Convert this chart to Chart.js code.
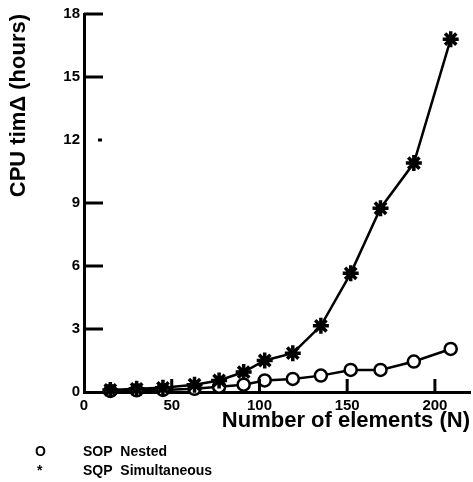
<!DOCTYPE html>
<html>
<head>
<meta charset="utf-8">
<script src="https://cdn.jsdelivr.net/npm/chart.js@4"></script>
<style>
  html,body{margin:0;padding:0;background:#fff;}
  #wrap{position:relative;width:473px;height:482px;}
  canvas{position:absolute;left:0;top:0;}
  .leg{position:absolute;font-family:"Liberation Sans",Arial,sans-serif;font-weight:bold;font-size:14px;color:#000;line-height:16px;}
</style>
</head>
<body>
<div id="wrap">
  <canvas id="c" width="473" height="482"></canvas>
  <div class="leg" style="left:35px;top:443px;">O</div>
  <div class="leg" style="left:83px;top:443px;">SOP&nbsp; Nested</div>
  <div class="leg" style="left:37px;top:462px;">*</div>
  <div class="leg" style="left:83px;top:462px;">SQP&nbsp; Simultaneous</div>
</div>
<script>
const elements = [15, 30, 45, 63, 77, 91, 103, 119, 135, 152, 169, 188, 209];
const sqpSimultaneous = [0.1, 0.15, 0.2, 0.35, 0.55, 0.95, 1.5, 1.85, 3.15, 5.65, 8.75, 10.9, 16.8];
const sopNested = [0.05, 0.08, 0.1, 0.15, 0.25, 0.35, 0.55, 0.62, 0.78, 1.05, 1.05, 1.45, 2.05];
const yTicks = [0, 3, 6, 9, 12, 15, 18];
const xTicks = [0, 50, 100, 150, 200];

const toPts = ys => elements.map((x, i) => ({x: x, y: ys[i]}));

const innerTicks = {
  id: 'innerTicks',
  afterDraw(chart) {
    const ctx = chart.ctx, xs = chart.scales.x, ys = chart.scales.y;
    const a = chart.chartArea;
    ctx.save();
    ctx.strokeStyle = '#000';
    ctx.lineWidth = 3;
    yTicks.forEach(v => {
      if (v === 0) return;
      const p = ys.getPixelForValue(v);
      ctx.beginPath();
      if (v === 12) { ctx.moveTo(a.left + 14, p); ctx.lineTo(a.left + 18, p); }
      else { ctx.moveTo(a.left, p); ctx.lineTo(a.left + 19, p); }
      ctx.stroke();
    });
    xTicks.forEach(v => {
      if (v === 0) return;
      const p = xs.getPixelForValue(v);
      ctx.beginPath();
      ctx.moveTo(p, a.bottom); ctx.lineTo(p, a.bottom - 13);
      ctx.stroke();
    });
    ctx.restore();
  }
};

const font = {family: '"Liberation Sans", Arial, sans-serif', weight: 'bold'};

new Chart(document.getElementById('c'), {
  type: 'line',
  data: {
    datasets: [
      {
        label: 'SQP Simultaneous',
        data: toPts(sqpSimultaneous),
        borderColor: '#000', backgroundColor: '#000',
        borderWidth: 2.5, pointStyle: 'star', pointRadius: 8,
        pointBorderWidth: 3.5, pointBorderColor: '#000', tension: 0, clip: false
      },
      {
        label: 'SOP Nested',
        data: toPts(sopNested),
        borderColor: '#000', backgroundColor: '#fff',
        borderWidth: 2.5, pointStyle: 'circle', pointRadius: 6,
        pointBorderWidth: 2.5, pointBorderColor: '#000', pointBackgroundColor: '#fff', tension: 0, clip: false
      }
    ]
  },
  options: {
    responsive: false,
    animation: false,
    layout: {autoPadding: false, padding: {left: 6, right: 3, top: 14, bottom: 48}},
    plugins: {legend: {display: false}, tooltip: {enabled: false}},
    scales: {
      x: {
        type: 'linear', min: 0, max: 220,
        afterBuildTicks: s => { s.ticks = xTicks.map(v => ({value: v})); },
        ticks: {font: Object.assign({size: 15}, font), color: '#000', padding: 5, includeBounds: false},
        grid: {display: true, drawOnChartArea: false, drawTicks: false},
        border: {color: '#000', width: 3},
        title: {display: true, text: 'Number of elements (N)', align: 'end', color: '#000',
                font: Object.assign({size: 22}, font), padding: {top: 0, bottom: 0}},
        afterFit: s => { s.height = 42; }
      },
      y: {
        type: 'linear', min: 0, max: 18,
        afterBuildTicks: s => { s.ticks = yTicks.map(v => ({value: v})); },
        ticks: {font: Object.assign({size: 15}, font), color: '#000', padding: 4},
        grid: {display: true, drawOnChartArea: false, drawTicks: false},
        border: {color: '#000', width: 3},
        title: {display: true, text: 'CPU timΔ (hours)', align: 'end', color: '#000',
                font: Object.assign({size: 22}, font), padding: {top: 0, bottom: 0}},
        afterFit: s => { s.width = 78; }
      }
    }
  },
  plugins: [innerTicks]
});
</script>
</body>
</html>
